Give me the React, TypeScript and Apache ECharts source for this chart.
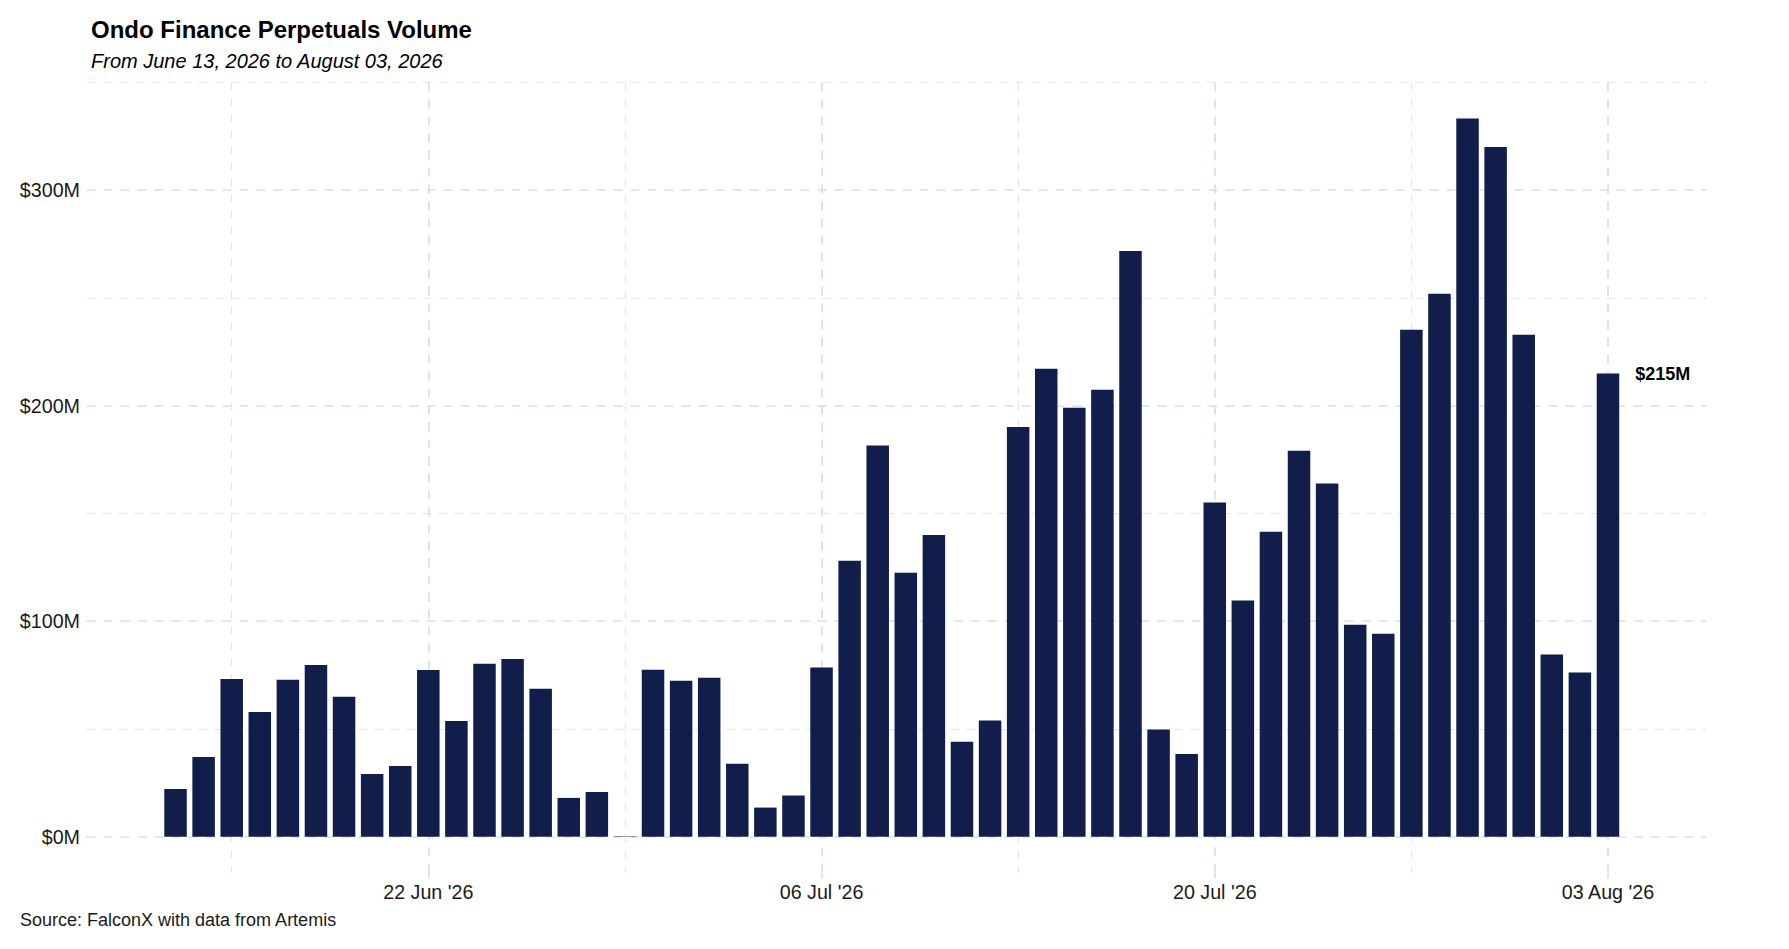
import React, { useEffect, useRef } from 'react';
import * as echarts from 'echarts';

// ---- data ----
const dates = [
  '2026-06-13', '2026-06-14', '2026-06-15', '2026-06-16', '2026-06-17', '2026-06-18', '2026-06-19',
  '2026-06-20', '2026-06-21', '2026-06-22', '2026-06-23', '2026-06-24', '2026-06-25', '2026-06-26',
  '2026-06-27', '2026-06-28', '2026-06-29', '2026-06-30', '2026-07-01', '2026-07-02', '2026-07-03',
  '2026-07-04', '2026-07-05', '2026-07-06', '2026-07-07', '2026-07-08', '2026-07-09', '2026-07-10',
  '2026-07-11', '2026-07-12', '2026-07-13', '2026-07-14', '2026-07-15', '2026-07-16', '2026-07-17',
  '2026-07-18', '2026-07-19', '2026-07-20', '2026-07-21', '2026-07-22', '2026-07-23', '2026-07-24',
  '2026-07-25', '2026-07-26', '2026-07-27', '2026-07-28', '2026-07-29', '2026-07-30', '2026-07-31',
  '2026-08-01', '2026-08-02', '2026-08-03',
];

// daily perpetuals volume, millions of USD
const volumesM = [
  22.1, 37.0, 73.2, 57.9, 72.8, 79.7, 64.9,
  29.1, 32.8, 77.4, 53.7, 80.2, 82.5, 68.6,
  18.0, 20.7, 0.2, 77.5, 72.4, 73.8, 33.8,
  13.5, 19.1, 78.5, 128.0, 181.5, 122.5, 140.0,
  44.1, 53.9, 190.1, 217.1, 199.0, 207.4, 271.8,
  49.7, 38.4, 155.1, 109.6, 141.5, 179.1, 163.9,
  98.3, 94.2, 235.2, 252.0, 333.3, 320.1, 232.9,
  84.5, 76.2, 214.9,
];

const majorTickDates = ['2026-06-22', '2026-07-06', '2026-07-20', '2026-08-03'];
const minorTickDates = ['2026-06-15', '2026-06-29', '2026-07-13', '2026-07-27'];
const yMajorTicks = [0, 100, 200, 300];
const yMinorTicks = [50, 150, 250, 350];

const TITLE = 'Ondo Finance Perpetuals Volume';
const SUBTITLE = 'From June 13, 2026 to August 03, 2026';
const SOURCE = 'Source: FalconX with data from Artemis';

const MONTHS: Record<string, string> = { '06': 'Jun', '07': 'Jul', '08': 'Aug' };
const fmtDate = (d: string) => `${d.slice(8, 10)} ${MONTHS[d.slice(5, 7)]} '${d.slice(2, 4)}`;

const FONT = "'Liberation Sans', Arial, Helvetica, sans-serif";
const BAR = '#111d4a';
const TXT = '#1a1a1a';
const GRID_MAJOR = { color: '#d6dfee', width: 1.7, type: [9, 8] as number[] };
const GRID_MINOR = { color: '#e0e6f1', width: 1.2, type: [8, 8] as number[] };

export default function App() {
  const ref = useRef<HTMLDivElement>(null);

  useEffect(() => {
    if (!ref.current) return;
    const chart = echarts.init(ref.current, null, { renderer: 'svg' });

    const majorIdx = majorTickDates.map((d) => dates.indexOf(d));
    const minorIdx = minorTickDates.map((d) => dates.indexOf(d));
    const lastIdx = volumesM.length - 1;
    const xMin = -3.17;
    const xMax = 54.49;
    const yMin = -16.67;
    const yMax = 350;

    const seriesData = volumesM.map((v, i) =>
      i === lastIdx
        ? {
            value: [i, v],
            label: {
              show: true,
              position: ['100%', 0],
              align: 'left',
              verticalAlign: 'middle',
              offset: [16, 0],
              formatter: (p: any) => `$${Math.round(p.value[1])}M`,
              fontFamily: FONT,
              fontWeight: 'bold',
              fontSize: 18,
              color: '#000',
            },
          }
        : [i, v]
    );

    const option: any = {
      animation: false,
      backgroundColor: '#ffffff',
      textStyle: { fontFamily: FONT },
      title: [
        {
          text: TITLE,
          left: 91,
          top: 17,
          padding: 0,
          textStyle: { fontFamily: FONT, fontSize: 24, fontWeight: 'bold', color: '#000', lineHeight: 24 },
        },
        {
          text: SUBTITLE,
          left: 91,
          top: 50.5,
          padding: 0,
          textStyle: { fontFamily: FONT, fontSize: 20, fontStyle: 'italic', fontWeight: 'normal', color: '#000', lineHeight: 20 },
        },
        {
          text: SOURCE,
          left: 20,
          top: 911,
          padding: 0,
          textStyle: { fontFamily: FONT, fontSize: 18, fontWeight: 'normal', color: TXT, lineHeight: 18 },
        },
      ],
      grid: { left: 86.5, right: 83, top: 82.5, bottom: 76.4, containLabel: false },
      xAxis: [
        {
          type: 'value',
          min: xMin,
          max: xMax,
          position: 'bottom',
          axisLine: { show: false, onZero: false },
          axisTick: { show: true, customValues: majorIdx, length: 6, lineStyle: GRID_MAJOR },
          axisLabel: {
            customValues: majorIdx,
            formatter: (v: number) => fmtDate(dates[Math.round(v)]),
            fontFamily: FONT,
            fontSize: 19.7,
            lineHeight: 19.7,
            color: TXT,
            margin: 9.3,
          },
          splitLine: { show: true, lineStyle: GRID_MAJOR },
        },
        {
          type: 'value',
          min: xMin,
          max: xMax,
          position: 'top',
          axisLine: { show: false, onZero: false },
          axisTick: { show: false, customValues: minorIdx },
          axisLabel: { show: false, customValues: minorIdx },
          splitLine: { show: true, lineStyle: GRID_MINOR },
        },
      ],
      yAxis: [
        {
          type: 'value',
          min: yMin,
          max: yMax,
          position: 'left',
          axisLine: { show: false },
          axisTick: { show: false, customValues: yMajorTicks },
          axisLabel: {
            customValues: yMajorTicks,
            formatter: (v: number) => `$${Math.round(v)}M`,
            fontFamily: FONT,
            fontSize: 19.7,
            color: TXT,
            margin: 6.5,
          },
          splitLine: { show: true, lineStyle: GRID_MAJOR },
        },
        {
          type: 'value',
          min: yMin,
          max: yMax,
          position: 'right',
          axisLine: { show: false },
          axisTick: { show: false, customValues: yMinorTicks },
          axisLabel: { show: false, customValues: yMinorTicks },
          splitLine: { show: true, lineStyle: GRID_MINOR },
        },
      ],
      series: [
        {
          name: 'Perpetuals Volume',
          type: 'bar',
          xAxisIndex: 0,
          yAxisIndex: 0,
          barWidth: 22.5,
          itemStyle: { color: BAR },
          data: seriesData,
        },
      ],
    };

    chart.setOption(option);
    return () => chart.dispose();
  }, []);

  return (
    <div
      ref={ref}
      style={{ position: 'fixed', left: 0, top: 0, width: 1789, height: 949, background: '#ffffff' }}
    />
  );
}
